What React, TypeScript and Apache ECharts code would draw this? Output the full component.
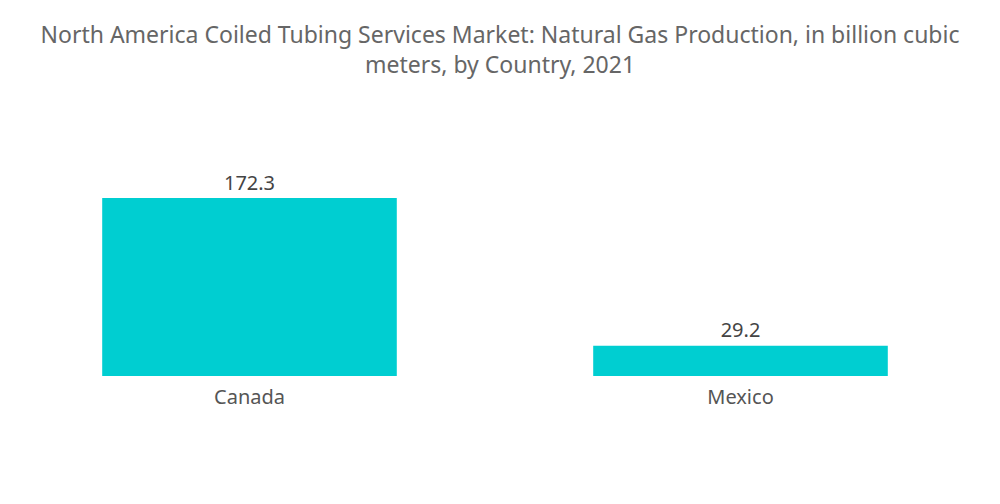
import React, { useEffect, useRef } from "react";
import * as echarts from "echarts";

const categories = ["Canada", "Mexico"];
const values = [172.3, 29.2];
const titleText =
  "North America Coiled Tubing Services Market: Natural Gas Production, in billion cubic\nmeters, by Country, 2021";

const FONT = "Noto Sans";

export default function App() {
  const ref = useRef<HTMLDivElement>(null);
  useEffect(() => {
    if (!ref.current) return;
    const chart = echarts.init(ref.current, undefined, { renderer: "svg" });
    chart.setOption({
      animation: false,
      title: {
        text: titleText,
        left: "center",
        top: 14,
        textStyle: {
          fontFamily: FONT,
          fontWeight: "normal",
          fontSize: 23,
          color: "#666666",
          lineHeight: 30,
        },
      },
      grid: { left: 4, right: 14, top: 198, bottom: 128, containLabel: false },
      xAxis: {
        type: "category",
        data: categories,
        axisLine: { show: false },
        axisTick: { show: false },
        axisLabel: {
          fontFamily: FONT,
          fontSize: 20,
          color: "#555555",
          margin: 10,
        },
      },
      yAxis: {
        type: "value",
        min: 0,
        max: 172.3,
        show: false,
        splitLine: { show: false },
      },
      series: [
        {
          type: "bar",
          data: values,
          barWidth: "60%",
          itemStyle: { color: "#00CED1" },
          label: {
            show: true,
            position: "top",
            fontFamily: FONT,
            fontSize: 20,
            color: "#444444",
            distance: 6,
          },
        },
      ],
    });
    return () => chart.dispose();
  }, []);
  return (
    <div
      ref={ref}
      style={{ position: "fixed", left: 0, top: 0, width: 1000, height: 504, background: "#fff" }}
    />
  );
}
